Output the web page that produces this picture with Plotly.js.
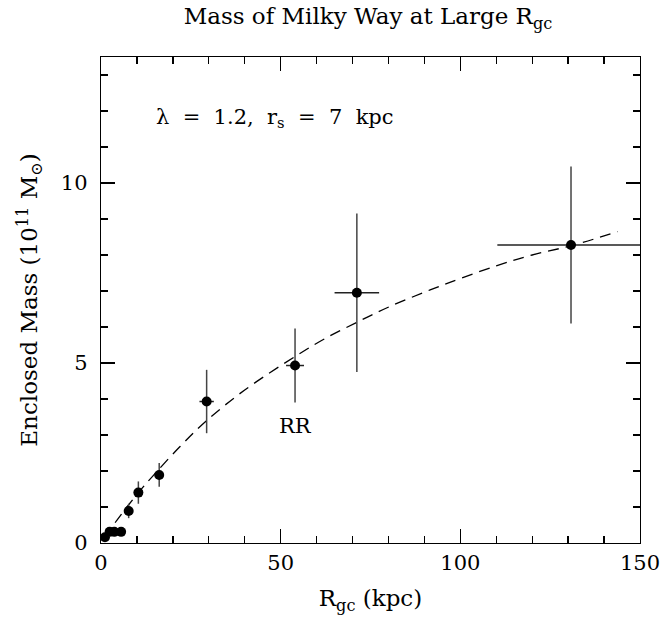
<!DOCTYPE html>
<html><head><meta charset="utf-8">
<script src="https://cdn.plot.ly/plotly-3.0.1.min.js"></script>
<style>html,body{margin:0;padding:0;background:#fff;}#plot{width:663px;height:620px;}</style>
</head><body><div id="plot"></div>
<script>
// Data points: galactocentric radius (kpc) and enclosed mass (1e11 Msun)
const rData   = [1.1, 2.4, 3.7, 5.6, 7.7, 10.4, 16.2, 29.4, 54.0, 71.2, 130.8];
const mData   = [0.16, 0.31, 0.31, 0.31, 0.89, 1.40, 1.89, 3.93, 4.93, 6.95, 8.28];
const rErr    = [0, 0, 0, 0, 0.5, 0.8, 1.0, 2.0, 2.5, 6.2, 20.5];
const mErr    = [0.05, 0.05, 0.05, 0.05, 0.20, 0.31, 0.33, 0.88, 1.03, 2.20, 2.18];
// Model curve
const rModel  = [1.0, 4.4, 10.4, 14.6, 22.0, 29.4, 40.0, 54.0, 62.0, 71.2, 80.4, 91.6, 97.1, 110.0, 120.0, 131.3, 143.8];
const mModel  = [0.15, 0.63, 1.40, 1.88, 2.68, 3.40, 4.25, 5.18, 5.66, 6.13, 6.57, 7.03, 7.24, 7.70, 8.00, 8.27, 8.65];
const xTicks  = [0, 50, 100, 150];
const yTicks  = [0, 5, 10];

const serif = "DejaVu Serif, Liberation Serif, serif";

const traces = [
  {x: rModel, y: mModel, mode: 'lines', type: 'scatter',
   line: {color: '#000', width: 1.3, dash: '11px,7px', shape: 'spline'}, hoverinfo: 'skip'},
  {x: rData, y: mData, mode: 'markers', type: 'scatter',
   marker: {color: '#000', size: 10},
   error_x: {type: 'data', array: rErr, visible: true, width: 0, thickness: 1.5, color: '#222'},
   error_y: {type: 'data', array: mErr, visible: true, width: 0, thickness: 1.5, color: '#444'}}
];

const axisCommon = {
  showgrid: false, zeroline: false, showline: true, linecolor: '#000', linewidth: 1.3,
  mirror: 'allticks', ticks: 'inside', ticklen: 14, tickwidth: 1.3, tickcolor: '#000',
  tickfont: {family: serif, size: 21, color: '#000'}
};

const layout = {
  width: 663, height: 620,
  margin: {l: 101, r: 23, t: 57, b: 77},
  paper_bgcolor: '#fff', plot_bgcolor: '#fff',
  showlegend: false,
  title: {text: 'Mass of Milky Way at Large R<sub>gc</sub>', font: {family: serif, size: 23, color: '#000'},
          x: 0.555, xanchor: 'center', y: 0.987, yanchor: 'top'},
  xaxis: Object.assign({}, axisCommon, {
    range: [0, 150], tickvals: xTicks, ticktext: xTicks.map(String),
    minor: {dtick: 10, ticks: 'inside', ticklen: 7, tickwidth: 1.3, tickcolor: '#000'},
    title: {text: 'R<sub>gc</sub> (kpc)', font: {family: serif, size: 23, color: '#000'}, standoff: 16}
  }),
  yaxis: Object.assign({}, axisCommon, {
    range: [0, 13.5], tickvals: yTicks, ticktext: yTicks.map(String),
    ticklabelstandoff: 8,
    minor: {dtick: 1, ticks: 'inside', ticklen: 7, tickwidth: 1.3, tickcolor: '#000'},
    title: {text: 'Enclosed Mass (10<sup>11</sup> M<sub>⊙</sub>)', font: {family: serif, size: 23, color: '#000'}, standoff: 16}
  }),
  annotations: [
    {x: 54, y: 3.25, xref: 'x', yref: 'y', text: 'RR', showarrow: false,
     font: {family: serif, size: 21, color: '#000'}},
    {x: 14.7, y: 11.8, xref: 'x', yref: 'y', xanchor: 'left',
     text: 'λ\u00a0 = \u00a01.2,\u00a0 r<sub>s</sub>\u00a0 = \u00a07\u00a0 kpc', showarrow: false,
     font: {family: serif, size: 21, color: '#000'}}
  ]
};

Plotly.newPlot('plot', traces, layout, {staticPlot: true});
</script></body></html>
